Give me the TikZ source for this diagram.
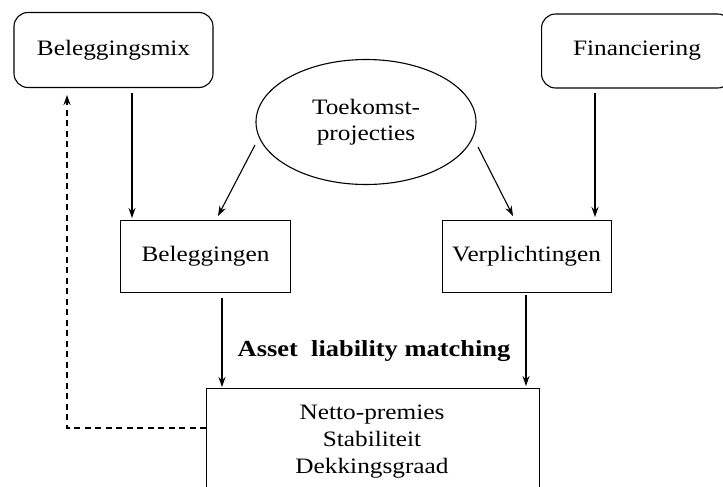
\documentclass[tikz,border=0pt]{standalone}
\usepackage{fontspec}
\setmainfont[FakeStretch=1.15]{Liberation Serif}
\usetikzlibrary{shapes.geometric,arrows.meta}
\begin{document}
\begin{tikzpicture}[x=1pt,y=-1pt,
  txt/.style={font=\fontsize{22}{26}\selectfont},
  rbox/.style={draw,line width=1.1pt,rounded corners=14pt,txt},
  sbox/.style={draw,line width=1pt,txt},
  arr/.style={line width=1.1pt,-{Stealth[length=10pt,width=7pt]}}]
\useasboundingbox (0,0) rectangle (723,487);
\begin{scope}
\clip (0,0) rectangle (723,487);
\node[rbox,minimum width=199pt,minimum height=75pt] (mix) at (113.5,50) {Beleggingsmix};
\node[rbox,minimum width=190pt,minimum height=74pt,anchor=west] (fin) at (541,51) {};
\node[txt] (fint) at (637,51) {Financiering};
\node[draw,line width=1.1pt,ellipse,minimum width=220pt,minimum height=125pt,txt,align=center] (toe) at (366,122) {Toekomst-\\projecties};
\node[sbox,minimum width=170pt,minimum height=72pt] (bel) at (205.5,256) {Beleggingen};
\node[sbox,minimum width=169pt,minimum height=72pt] (ver) at (526.5,256) {Verplichtingen};
\node[sbox,minimum width=333pt,minimum height=130pt,anchor=north west] (res) at (206,388) {};
\node[txt,align=center,font=\fontsize{22}{27}\selectfont] (rest) at (372,442) {Netto-premies\\Stabiliteit\\Dekkingsgraad};
\end{scope}
\coordinate (m1) at (132,93);
\coordinate (m2) at (132,218);
\draw[arr] (m1) -- (m2);
\coordinate (f1) at (595,93);
\coordinate (f2) at (595,217);
\draw[arr] (f1) -- (f2);
\coordinate (t1) at (255,145);
\coordinate (t2) at (218,216);
\coordinate (t3) at (478,147);
\coordinate (t4) at (513,216);
\draw[arr] (t1) -- (t2);
\draw[arr] (t3) -- (t4);
\coordinate (b1) at (222,298);
\coordinate (b2) at (222,387);
\draw[arr] (b1) -- (b2);
\coordinate (v1) at (526,295);
\coordinate (v2) at (526,386);
\draw[arr] (v1) -- (v2);
\node[font=\fontsize{23}{26}\selectfont\bfseries] (alm) at (374,351) {Asset\ \ liability matching};
\coordinate (d1) at (67,428);
\coordinate (d2) at (67,95);
\draw[line width=1.2pt,dash pattern=on 6pt off 4.5pt,-{Stealth[length=10pt,width=7pt]}] (res.west |- d1) -- (d1) -- (d2);
\end{tikzpicture}
\end{document}
